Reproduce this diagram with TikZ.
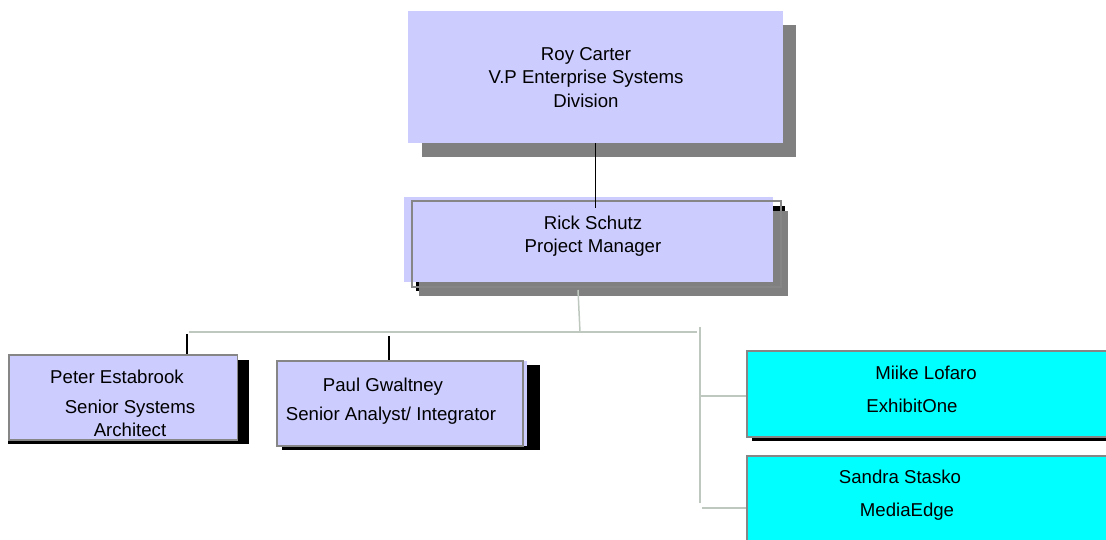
\documentclass[tikz,border=0pt]{standalone}
\usepackage{fontspec}
\setmainfont{Liberation Sans}
\usetikzlibrary{fit}

\begin{document}
\begin{tikzpicture}[x=0.02cm, y=-0.02cm,
    txt/.style={font=\fontsize{10.6}{13.3}\selectfont, inner sep=0pt, align=center},
    linetxt/.style={font=\fontsize{10.6}{13.3}\selectfont, inner sep=0pt, anchor=base},
    lavbox/.style={fill=boxlav, inner sep=0pt},
    cyanbox/.style={fill=boxcyan, draw=edgegrey, line width=0.8pt, inner sep=0pt},
    boxframe/.style={draw=edgegrey, line width=0.8pt, inner sep=0pt},
    darklink/.style={black, line width=0.85pt},
    paleline/.style={linkgrey, line width=0.85pt}]
    % Define colors
    \definecolor{boxlav}{RGB}{204, 204, 255}
    \definecolor{boxcyan}{RGB}{0, 255, 255}
    \definecolor{shadowgrey}{RGB}{128, 128, 128}
    \definecolor{edgegrey}{RGB}{134, 134, 134}
    \definecolor{linkgrey}{RGB}{190, 200, 190}

    \useasboundingbox (0, 0) rectangle (1106, 540);

    % Division head
    \fill[shadowgrey] (422, 25) rectangle (796, 157);
    \node[lavbox, fit={(408, 11) (783, 143)}] (roy) {};
    \node[txt] (roy-text) at (586, 77.5) {Roy Carter\\V.P Enterprise Systems\\Division};

    % Project manager
    \fill[black] (416, 206) rectangle (785, 291);
    \fill[shadowgrey] (419, 211) rectangle (788, 296);
    \node[lavbox, fit={(404, 197) (773, 282)}] (rick) {};
    \node[boxframe, fit={(412, 201) (781, 287)}] (rick-frame) {};
    \node[txt] (rick-text) at (593, 236.5) {Rick Schutz\\Project Manager};

    % Staff
    \fill[black] (8, 360) rectangle (249, 444);
    \node[lavbox, boxframe, fit={(9, 355) (237.5, 440)}] (peter) {};
    \node[linetxt] (peter-name) at (117, 383.5) {Peter Estabrook};
    \node[linetxt] (peter-role) at (130, 413.5) {Senior Systems};
    \node[linetxt] (peter-role2) at (130, 436.5) {Architect};

    \fill[black] (282, 365) rectangle (540, 450);
    \node[lavbox, fit={(277, 361) (527, 446)}] (paul-fill) {};
    \node[boxframe, fit={(277, 361) (523, 446)}] (paul) {};
    \node[linetxt] (paul-name) at (383, 391.5) {Paul Gwaltney};
    \node[linetxt] (paul-role) at (391, 420.5) {Senior Analyst/ Integrator};

    % Consultants
    \fill[black] (752, 360) rectangle (1112, 441);
    \node[cyanbox, fit={(747, 351) (1112, 437)}] (miike) {};
    \node[linetxt] (miike-name) at (926, 379.5) {Miike Lofaro};
    \node[linetxt] (miike-firm) at (912, 412.5) {ExhibitOne};

    \node[cyanbox, fit={(747, 456) (1112, 548)}] (sandra) {};
    \node[linetxt] (sandra-name) at (900, 483.5) {Sandra Stasko};
    \node[linetxt] (sandra-firm) at (907, 516.5) {MediaEdge};

    % Reporting lines
    \coordinate (rick-in) at (595.5, 208);
    \draw[darklink] (roy.south) -- (rick-in);

    \coordinate (rick-out) at (578, 290);
    \coordinate (bar-mid) at (580, 332);
    \coordinate (bar-left) at (189, 332);
    \coordinate (bar-right) at (697, 332);
    \draw[paleline] (rick-out) -- (bar-mid);
    \draw[paleline] (bar-left) -- (bar-right);

    \coordinate (peter-tap) at (187, 334);
    \draw[darklink] (peter-tap) -- (peter-tap |- peter.north);
    \coordinate (paul-tap) at (389, 336);
    \draw[darklink] (paul-tap) -- (paul-tap |- paul.north);

    \coordinate (spine-top) at (700, 327);
    \coordinate (spine-foot) at (700, 503);
    \draw[paleline] (spine-top) -- (spine-foot);
    \coordinate (miike-tap) at (700, 396);
    \draw[paleline] (miike-tap) -- (miike-tap -| miike.west);
    \coordinate (sandra-tap) at (702, 508);
    \draw[paleline] (sandra-tap) -- (sandra-tap -| sandra.west);

\end{tikzpicture}
\end{document}
